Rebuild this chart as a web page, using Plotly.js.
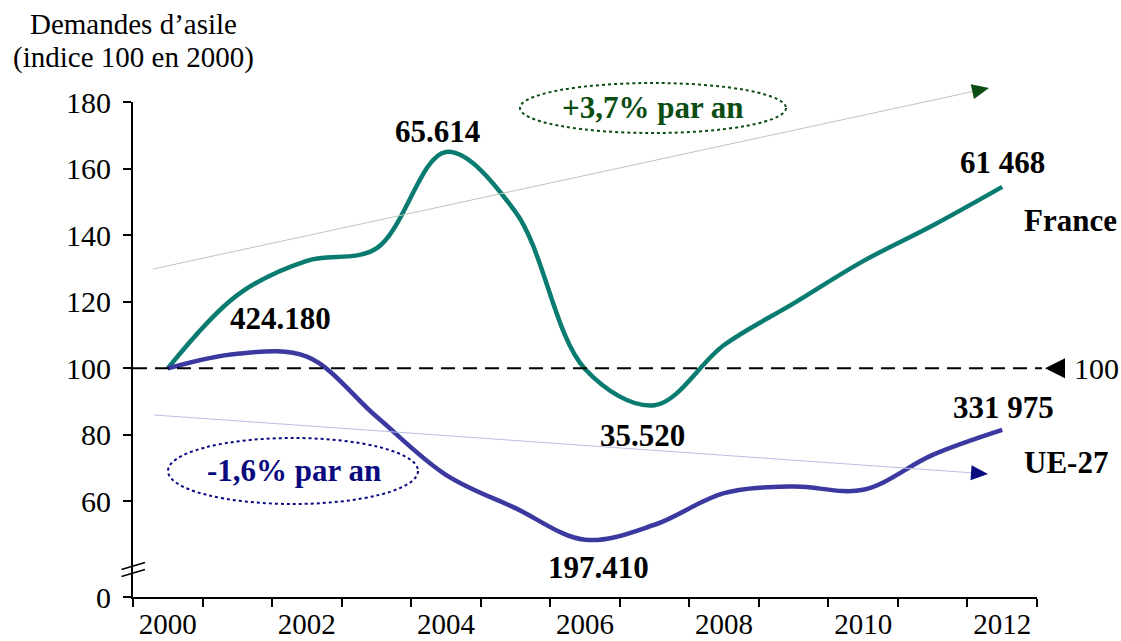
<!DOCTYPE html>
<html><head><meta charset="utf-8">
<script src="https://cdn.plot.ly/plotly-3.0.1.min.js"></script>
<style>html,body{margin:0;padding:0;background:#fff}#chart{width:1121px;height:641px}</style>
</head><body><div id="chart"></div>
<script>
// ---- data (index 100 in 2000) ----
const years = [2000,2001,2002,2003,2004,2005,2006,2007,2008,2009,2010,2011,2012];
const franceIndex = [100,122,132.3,136,165,147,99.8,88.9,107,119.5,132.2,142.9,154.5];
const ue27Index   = [100,104.4,103.5,85.5,68,58,48.5,53,62.5,64.5,63.5,74,81.5];
const xTickYears  = [2000,2002,2004,2006,2008,2010,2012];
const xTickLabels = ['2000','2002','2004','2006','2008','2010','2012'];
const yTickValues = [60,80,100,120,140,160,180];
const yTickLabels = ['60','80','100','120','140','160','180'];
const zeroLabel = '0';
const labelFrancePeak = '65.614', labelEuStart = '424.180', labelFranceEnd = '61 468';
const labelFranceLow = '35.520', labelEuLow = '197.410', labelEuEnd = '331 975';
const trendFrance = '+3,7% par an', trendEu = '-1,6% par an';
const seriesFrance = 'France', seriesEu = 'UE-27';
const refLevel = 100;

// ---- geometry helpers ----
const FONT = 'Liberation Serif, Times New Roman, serif';
const ML=133, MR=84, MT=102, MB=44, W=1121-ML-MR, H=641-MT-MB;
const X0=1999.5, X1=2012.5, Y1=180;
const YZERO = 31.3; // where "0" sits below the axis break
const fx = px => (px-ML)/W;
const fy = py => (MT+H-py)/H;
const yPaper = v => (v-YZERO)/(Y1-YZERO);
const refPy = MT + H - yPaper(refLevel)*H;
const tri = (tip, dir, len, half) => {
  const n = Math.hypot(dir[0],dir[1]); const d=[dir[0]/n,dir[1]/n]; const p=[-d[1],d[0]];
  const b=[tip[0]-len*d[0], tip[1]-len*d[1]];
  const pts=[tip,[b[0]+half*p[0],b[1]+half*p[1]],[b[0]-half*p[0],b[1]-half*p[1]]];
  return 'M'+pts.map(q=>fx(q[0])+','+fy(q[1])).join(' L')+' Z';
};

const green='#0b4d12', navy='#0a0a80';
const frStart=[153,269], frTip=[989,88];
const euStart=[154,415], euTip=[988,474];
const shapes = [
  {type:'line',xref:'paper',yref:'paper',x0:0,x1:fx(1042),y0:yPaper(refLevel),y1:yPaper(refLevel),line:{color:'#000',width:2,dash:'14px,8px'}},
  {type:'path',xref:'paper',yref:'paper',path:tri([1045,refPy],[-1,0],20,10),fillcolor:'#000',line:{width:0}},
  {type:'line',xref:'paper',yref:'paper',x0:fx(frStart[0]),y0:fy(frStart[1]),x1:fx(frTip[0]-12),y1:fy(frTip[1]+2.6),line:{color:'#b9c9b9',width:1}},
  {type:'path',xref:'paper',yref:'paper',path:tri(frTip,[frTip[0]-frStart[0],frTip[1]-frStart[1]],17,7.5),fillcolor:green,line:{width:0}},
  {type:'line',xref:'paper',yref:'paper',x0:fx(euStart[0]),y0:fy(euStart[1]),x1:fx(euTip[0]-12),y1:fy(euTip[1]-0.9),line:{color:'#bcbce6',width:1}},
  {type:'path',xref:'paper',yref:'paper',path:tri(euTip,[euTip[0]-euStart[0],euTip[1]-euStart[1]],17,7.5),fillcolor:navy,line:{width:0}},
  {type:'circle',xref:'paper',yref:'paper',x0:fx(520),x1:fx(786),y0:fy(133),y1:fy(83),line:{color:green,width:2,dash:'dot'}},
  {type:'circle',xref:'paper',yref:'paper',x0:fx(168),x1:fx(418),y0:fy(504),y1:fy(438),line:{color:navy,width:2,dash:'dot'}},
  {type:'line',xref:'paper',yref:'paper',x0:fx(121.5),y0:fy(569.5),x1:fx(145),y1:fy(562.5),line:{color:'#000',width:1.5}},
  {type:'line',xref:'paper',yref:'paper',x0:fx(121.5),y0:fy(576.5),x1:fx(145),y1:fy(569.5),line:{color:'#000',width:1.5}}
];

const ann = (text, px, py, size, bold, color) => ({
  text: bold ? '<b>'+text+'</b>' : text, xref:'paper', yref:'paper', x:fx(px), y:fy(py),
  xanchor:'center', yanchor:'middle', showarrow:false,
  font:{family:FONT, size:size, color:color||'#000'}
});
const annotations = [
  ann('Demandes d’asile',133,24,29,false),
  ann('(indice 100 en 2000)',133,57,29,false),
  ann(labelFrancePeak,437,131,31,true),
  ann(labelEuStart,280,318,31,true),
  ann(labelFranceEnd,1002,162,31,true),
  ann(seriesFrance,1070,220,31,true),
  ann(labelFranceLow,642,435,31,true),
  ann(labelEuLow,598,567,31,true),
  ann(labelEuEnd,1003,407,31,true),
  ann(seriesEu,1066,462,31,true),
  ann(String(refLevel),1096,369,30,false),
  ann(trendFrance,653,108,31,true,green),
  ann(trendEu,294,470,31,true,navy)
];

const traces = [
  {x:years,y:franceIndex,type:'scatter',mode:'lines',name:seriesFrance,line:{color:'#0a7b70',width:4.5,shape:'spline',smoothing:1}},
  {x:years,y:ue27Index,type:'scatter',mode:'lines',name:seriesEu,line:{color:'#3b38a0',width:4.5,shape:'spline',smoothing:1}}
];

const layout = {
  width:1121, height:641, margin:{l:ML,r:MR,t:MT,b:MB},
  paper_bgcolor:'#fff', plot_bgcolor:'#fff', showlegend:false, hovermode:false,
  font:{family:FONT,size:30,color:'#000'},
  xaxis:{range:[X0,X1], tickmode:'array', tickvals:xTickYears, ticktext:xTickLabels, ticks:'',
    showline:true, linecolor:'#000', linewidth:2, showgrid:false, zeroline:false,
    tickfont:{family:FONT,size:29,color:'#000'},
    minor:{tick0:1999.5, dtick:1, ticks:'outside', ticklen:8, tickwidth:2, tickcolor:'#000', showgrid:false}},
  yaxis:{range:[YZERO,Y1], tickmode:'array', tickvals:[YZERO].concat(yTickValues), ticktext:[zeroLabel].concat(yTickLabels),
    ticks:'outside', ticklen:8, tickwidth:2, tickcolor:'#000', showline:true, linecolor:'#000', linewidth:2,
    showgrid:false, zeroline:false, tickfont:{family:FONT,size:30,color:'#000'}, ticklabelstandoff:6},
  shapes:shapes, annotations:annotations
};
Plotly.newPlot('chart', traces, layout, {displayModeBar:false, staticPlot:true});
</script></body></html>
